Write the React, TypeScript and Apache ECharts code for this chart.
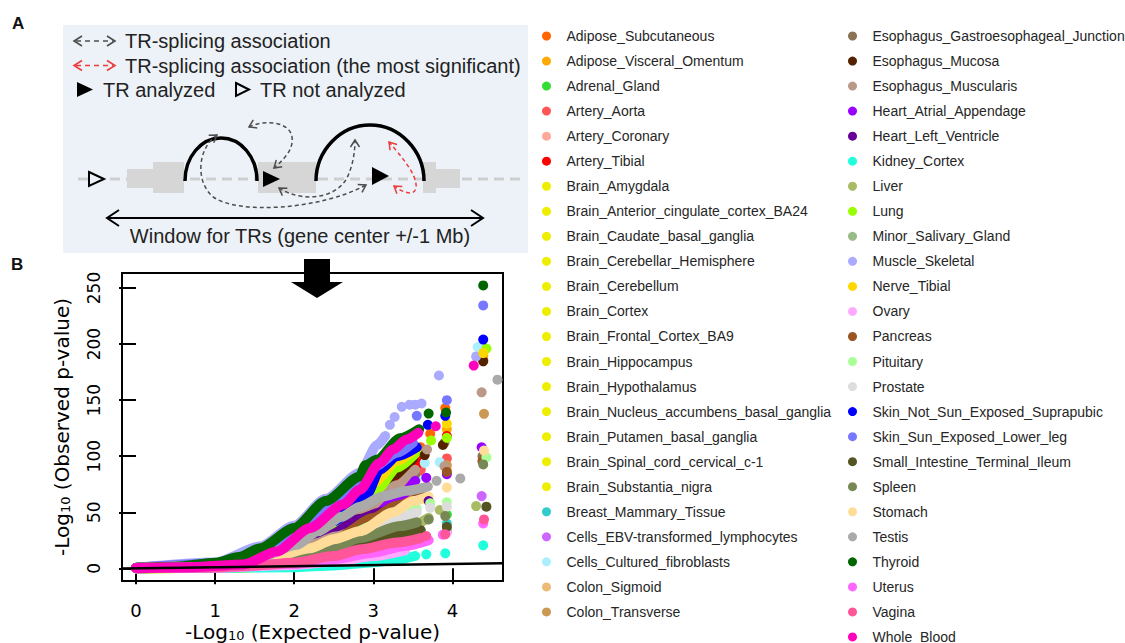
import React, { useEffect, useRef } from "react";
import * as echarts from "echarts";

type P = [number, number];

// ---------------- legend / tissue lists ----------------
const TISSUES_COL1 = [
  "Adipose_Subcutaneous", "Adipose_Visceral_Omentum", "Adrenal_Gland", "Artery_Aorta",
  "Artery_Coronary", "Artery_Tibial", "Brain_Amygdala", "Brain_Anterior_cingulate_cortex_BA24",
  "Brain_Caudate_basal_ganglia", "Brain_Cerebellar_Hemisphere", "Brain_Cerebellum", "Brain_Cortex",
  "Brain_Frontal_Cortex_BA9", "Brain_Hippocampus", "Brain_Hypothalamus",
  "Brain_Nucleus_accumbens_basal_ganglia", "Brain_Putamen_basal_ganglia",
  "Brain_Spinal_cord_cervical_c-1", "Brain_Substantia_nigra", "Breast_Mammary_Tissue",
  "Cells_EBV-transformed_lymphocytes", "Cells_Cultured_fibroblasts", "Colon_Sigmoid", "Colon_Transverse",
];
const TISSUES_COL2 = [
  "Esophagus_Gastroesophageal_Junction", "Esophagus_Mucosa", "Esophagus_Muscularis",
  "Heart_Atrial_Appendage", "Heart_Left_Ventricle", "Kidney_Cortex", "Liver", "Lung",
  "Minor_Salivary_Gland", "Muscle_Skeletal", "Nerve_Tibial", "Ovary", "Pancreas", "Pituitary",
  "Prostate", "Skin_Not_Sun_Exposed_Suprapubic", "Skin_Sun_Exposed_Lower_leg",
  "Small_Intestine_Terminal_Ileum", "Spleen", "Stomach", "Testis", "Thyroid", "Uterus", "Vagina",
  "Whole_Blood",
];
const TISSUES = [...TISSUES_COL1, ...TISSUES_COL2];

const COLORS = [
  "#FF6600", "#FFAA00", "#33DD33", "#FF5555", "#FFAA99", "#FF0000",
  "#EEEE00", "#EEEE00", "#EEEE00", "#EEEE00", "#EEEE00", "#EEEE00", "#EEEE00",
  "#EEEE00", "#EEEE00", "#EEEE00", "#EEEE00", "#EEEE00", "#EEEE00",
  "#33CCCC", "#CC66FF", "#AAEEFF", "#EEBB77", "#CC9955",
  "#8B7355", "#552200", "#BB9988", "#9900FF", "#660099", "#22FFDD", "#AABB66", "#99FF00",
  "#99BB88", "#AAAAFF", "#FFD700", "#FFAAFF", "#995522", "#AAFF99", "#DDDDDD", "#0000FF",
  "#7777FF", "#555522", "#778855", "#FFDD99", "#AAAAAA", "#006600", "#FF66FF", "#FF5599",
  "#FF00BB",
];

// ---------------- axis ticks ----------------
const X_TICKS = [0, 1, 2, 3, 4];
const Y_TICKS = [0, 50, 100, 150, 200, 250];
const X_MIN = -0.177;
const X_MAX = 4.64;
const Y_MIN = -11.3;
const Y_MAX = 263.4;

// ---------------- QQ values (expected, observed) per tissue ----------------
// band = dense run of points; tail = separate points at the top end
const bandAdiposeSub: P[] = [[0, 0.4], [1, 3.5], [1.5, 11], [2, 26], [2.5, 48], [2.8, 66], [3, 78], [3.3, 94], [3.6, 108]];
const tailAdiposeSub: P[] = [[3.72, 120], [3.91, 143], [4.39, 186]];
const bandAdiposeVis: P[] = [[0, 0.3], [1, 3], [1.5, 9], [2, 21], [2.5, 40], [2.8, 56], [3, 68], [3.3, 86], [3.6, 100]];
const tailAdiposeVis: P[] = [[3.93, 124], [4.39, 190]];
const bandAdrenal: P[] = [[0, 0.2], [1, 1.5], [1.5, 4], [2, 9], [2.5, 17], [3, 30], [3.4, 40]];
const tailAdrenal: P[] = [[3.93, 48]];
const bandAorta: P[] = [[0, 0.3], [1, 2.5], [1.5, 7], [2, 17], [2.5, 35], [3, 58], [3.3, 74], [3.6, 88]];
const tailAorta: P[] = [[3.93, 98]];
const bandCoronary: P[] = [[0, 0.2], [1, 1], [1.5, 3], [2, 7], [2.5, 13], [3, 22], [3.4, 30]];
const tailCoronary: P[] = [];
const bandTibialA: P[] = [[0, 0.3], [1, 3], [1.5, 8], [2, 20], [2.5, 40], [3, 66], [3.3, 82], [3.6, 96]];
const tailTibialA: P[] = [[3.93, 118]];
const bandAmygdala: P[] = [[0, 0.1], [1, 0.5], [2, 2], [2.5, 4], [3, 7], [3.3, 9]];
const bandAnterior: P[] = [[0, 0.1], [1, 0.6], [2, 2.5], [2.5, 5], [3, 9], [3.3, 12]];
const bandCaudate: P[] = [[0, 0.1], [1, 0.8], [2, 3.5], [2.5, 7], [3, 12], [3.4, 16]];
const bandCerebHemi: P[] = [[0, 0.1], [1, 0.9], [2, 4], [2.5, 8], [3, 14], [3.4, 19]];
const bandCerebellum: P[] = [[0, 0.1], [1, 1], [2, 5], [2.5, 10], [3, 17], [3.5, 24]];
const bandCortex: P[] = [[0, 0.1], [1, 0.8], [2, 3.5], [2.5, 7], [3, 12], [3.4, 16]];
const bandFrontal: P[] = [[0, 0.1], [1, 0.6], [2, 3], [2.5, 6], [3, 10], [3.3, 13]];
const bandHippo: P[] = [[0, 0.1], [1, 0.5], [2, 2.5], [2.5, 5], [3, 8], [3.3, 11]];
const bandHypo: P[] = [[0, 0.1], [1, 0.5], [2, 2.5], [2.5, 5], [3, 8.5], [3.3, 11]];
const bandNucleus: P[] = [[0, 0.1], [1, 0.7], [2, 3], [2.5, 6], [3, 11], [3.4, 14]];
const bandPutamen: P[] = [[0, 0.1], [1, 0.6], [2, 2.8], [2.5, 5.5], [3, 10], [3.3, 13]];
const bandSpinal: P[] = [[0, 0.1], [1, 0.5], [2, 2], [2.5, 4.5], [3, 8], [3.3, 10]];
const bandSubstantia: P[] = [[0, 0.1], [1, 0.4], [2, 1.8], [2.5, 3.5], [3, 6], [3.2, 8]];
const bandBreast: P[] = [[0, 0.2], [1, 1.5], [1.5, 4], [2, 9], [2.5, 17], [3, 28], [3.4, 36]];
const tailBreast: P[] = [[3.93, 40]];
const bandEBV: P[] = [[0, 0.1], [1, 1], [2, 5], [2.5, 10], [3, 18], [3.4, 26]];
const tailEBV: P[] = [[3.93, 33], [4.37, 64.4]];
const bandFibro: P[] = [[0, 0.3], [1, 2], [1.5, 6], [2, 15], [2.5, 30], [3, 52], [3.3, 66], [3.55, 80]];
const tailFibro: P[] = [[3.65, 94], [3.84, 94.7], [4.32, 197.4]];
const bandSigmoid: P[] = [[0, 0.2], [1, 2], [1.5, 5], [2, 12], [2.5, 24], [3, 42], [3.3, 55], [3.6, 66]];
const tailSigmoid: P[] = [[3.93, 88]];
const bandTransverse: P[] = [[0, 0.3], [1, 2], [1.5, 6], [2, 14], [2.5, 28], [3, 46], [3.3, 58], [3.6, 68]];
const tailTransverse: P[] = [[3.93, 92], [4.4, 137.8]];
const bandEsoGJ: P[] = [[0, 0.3], [1, 2], [1.5, 6], [2, 15], [2.5, 30], [3, 52], [3.3, 68], [3.53, 84]];
const tailEsoGJ: P[] = [[3.9, 112], [4.38, 100]];
const bandEsoMuc: P[] = [[0, 0.3], [1, 2.5], [1.5, 8], [2, 19], [2.5, 38], [3, 64], [3.3, 84], [3.5, 98]];
const tailEsoMuc: P[] = [[3.65, 101], [3.88, 110], [4.39, 184.6]];
const bandEsoMus: P[] = [[0, 0.3], [1, 2.5], [1.5, 7], [2, 17], [2.5, 34], [3, 57], [3.3, 74], [3.53, 88]];
const tailEsoMus: P[] = [[3.68, 106], [3.9, 91], [4.37, 157]];
const bandAtrial: P[] = [[0, 0.2], [1, 1.5], [1.5, 4], [2, 10], [2.5, 24], [3, 46], [3.3, 62], [3.53, 78]];
const tailAtrial: P[] = [[3.67, 80.8], [3.93, 84], [4.37, 108]];
const bandLV: P[] = [[0, 0.2], [1, 2], [1.5, 7], [2, 22], [2.2, 30], [2.5, 37], [2.83, 44], [3.1, 50], [3.4, 56]];
const tailLV: P[] = [[3.7, 60]];
const bandKidney: P[] = [[0, 0.1], [1, 0.3], [2, 1], [2.5, 2.5], [3, 5.5], [3.3, 8], [3.53, 11]];
const tailKidney: P[] = [[3.67, 12.5], [3.91, 13.4], [4.39, 20.5]];
const bandLiver: P[] = [[0, 0.1], [1, 1], [1.5, 3], [2, 7], [2.5, 14], [3, 25], [3.4, 36], [3.7, 45]];
const tailLiver: P[] = [[3.84, 52], [4.3, 55.5]];
const bandLung: P[] = [[0, 0.3], [1, 3], [1.5, 9], [2, 22], [2.4, 38], [2.83, 56], [3.04, 70], [3.3, 90], [3.55, 104]];
const tailLung: P[] = [[3.73, 114], [3.93, 116.4], [4.43, 196]];
const bandSalivary: P[] = [[0, 0.1], [1, 0.8], [2, 4], [2.5, 9], [3, 17], [3.4, 25]];
const tailSalivary: P[] = [[3.93, 35]];
const bandMuscle: P[] = [[0, 0.5], [1, 5.2], [1.57, 19.5], [2, 38], [2.4, 62], [2.83, 85], [3.05, 110], [3.15, 118]];
const tailMuscle: P[] = [[3.21, 128], [3.27, 135], [3.36, 144], [3.46, 146], [3.53, 146], [3.61, 147], [3.83, 172], [4.3, 189]];
const bandNerve: P[] = [[0, 0.3], [1, 3], [1.5, 9], [2, 22], [2.5, 44], [2.8, 62], [3, 76], [3.3, 96], [3.55, 108]];
const tailNerve: P[] = [[3.93, 129], [4.39, 192]];
const bandOvary: P[] = [[0, 0.1], [1, 0.6], [2, 3], [2.5, 6], [3, 11], [3.4, 16]];
const tailOvary: P[] = [[3.93, 32]];
const bandPancreas: P[] = [[0, 0.2], [1, 1.5], [1.5, 5], [2, 12], [2.5, 25], [3, 45], [3.3, 56], [3.6, 64]];
const tailPancreas: P[] = [[3.93, 86], [4.38, 95.6]];
const bandPituitary: P[] = [[0, 0.1], [1, 1.5], [1.5, 4], [2, 10], [2.5, 22], [3, 38], [3.3, 48], [3.55, 53]];
const tailPituitary: P[] = [[3.72, 58], [3.93, 59], [4.43, 98.9]];
const bandProstate: P[] = [[0, 0.1], [1, 1.2], [1.5, 3.5], [2, 9], [2.5, 20], [3, 35], [3.3, 45], [3.55, 50]];
const tailProstate: P[] = [[3.72, 54], [3.93, 55]];
const bandSkinNot: P[] = [[0, 0.3], [1, 3], [1.5, 9], [2, 22], [2.5, 42], [2.8, 58], [2.92, 66], [3.08, 88], [3.3, 100], [3.55, 108]];
const tailSkinNot: P[] = [[3.69, 128], [3.91, 136], [4.39, 204]];
const bandSkinSun: P[] = [[0, 0.4], [1, 4], [1.5, 11], [2, 27], [2.5, 55], [2.8, 78], [3, 90], [3.3, 103], [3.5, 112]];
const tailSkinSun: P[] = [[3.55, 136], [3.93, 150], [4.39, 234.5]];
const bandSmallInt: P[] = [[0, 0.1], [1, 1], [1.5, 3], [2, 7], [2.5, 15], [3, 25], [3.3, 31], [3.6, 34]];
const tailSmallInt: P[] = [[3.93, 37], [4.43, 55]];
const bandSpleen: P[] = [[0, 0.1], [1, 1.2], [1.5, 4], [2, 9], [2.41, 15], [2.83, 27], [3.34, 37.7], [3.55, 41]];
const tailSpleen: P[] = [[3.7, 43.6], [3.91, 46.6], [4.39, 92.7]];
const bandStomach: P[] = [[0, 0.2], [1, 2], [1.57, 6.5], [2.2, 18], [2.5, 26], [2.83, 33], [3.25, 50], [3.5, 60], [3.7, 64]];
const tailStomach: P[] = [[3.93, 72], [4.4, 105]];
const bandTestis: P[] = [[0, 0.2], [1, 2.5], [1.5, 8], [2.03, 21], [2.3, 33], [2.6, 46], [2.83, 55], [3.12, 64], [3.4, 69], [3.69, 73]];
const tailTestis: P[] = [[3.8, 78], [4.1, 80.2], [4.57, 168.3]];
const bandThyroid: P[] = [[0, 0.5], [0.5, 1.5], [1, 5], [1.3, 10], [1.57, 18], [2, 36], [2.4, 60], [2.83, 82], [2.9, 92], [3.05, 97], [3.34, 116], [3.58, 124]];
const tailThyroid: P[] = [[3.7, 138], [3.92, 139], [4.39, 252.3]];
const bandUterus: P[] = [[0, 0.1], [1, 0.8], [2, 4], [2.5, 8], [3, 14], [3.4, 20], [3.7, 25]];
const tailUterus: P[] = [[3.88, 30], [4.39, 40]];
const bandVagina: P[] = [[0, 0.2], [1, 1], [1.5, 2.5], [2, 5], [2.5, 11], [2.85, 17], [3.3, 23], [3.6, 27]];
const tailVagina: P[] = [[3.67, 28.8], [3.91, 30.3], [4.4, 43.6]];
const bandBlood: P[] = [[0, 0.3], [0.7, 1], [1.36, 3.5], [1.78, 15], [2.2, 36], [2.62, 57], [2.83, 70], [3.08, 94], [3.25, 106], [3.42, 115], [3.57, 121]];
const tailBlood: P[] = [[3.79, 126.7], [4.27, 180.8]];

const BANDS: P[][] = [
  bandAdiposeSub, bandAdiposeVis, bandAdrenal, bandAorta, bandCoronary, bandTibialA,
  bandAmygdala, bandAnterior, bandCaudate, bandCerebHemi, bandCerebellum, bandCortex, bandFrontal,
  bandHippo, bandHypo, bandNucleus, bandPutamen, bandSpinal, bandSubstantia,
  bandBreast, bandEBV, bandFibro, bandSigmoid, bandTransverse,
  bandEsoGJ, bandEsoMuc, bandEsoMus, bandAtrial, bandLV, bandKidney, bandLiver, bandLung,
  bandSalivary, bandMuscle, bandNerve, bandOvary, bandPancreas, bandPituitary, bandProstate, bandSkinNot,
  bandSkinSun, bandSmallInt, bandSpleen, bandStomach, bandTestis, bandThyroid, bandUterus, bandVagina,
  bandBlood,
];
const TAILS: P[][] = [
  tailAdiposeSub, tailAdiposeVis, tailAdrenal, tailAorta, tailCoronary, tailTibialA,
  [], [], [], [], [], [], [], [], [], [], [], [], [],
  tailBreast, tailEBV, tailFibro, tailSigmoid, tailTransverse,
  tailEsoGJ, tailEsoMuc, tailEsoMus, tailAtrial, tailLV, tailKidney, tailLiver, tailLung,
  tailSalivary, tailMuscle, tailNerve, tailOvary, tailPancreas, tailPituitary, tailProstate, tailSkinNot,
  tailSkinSun, tailSmallInt, tailSpleen, tailStomach, tailTestis, tailThyroid, tailUterus, tailVagina,
  tailBlood,
];

// ---------------- panel A drawing helpers ----------------
const FONT_A = '"Liberation Sans", Arial, sans-serif';
const PLOT_FONT = '"DejaVu Sans", Verdana, sans-serif';
const BG = "#EDF2F8";
const DASH_GRAY = "#4D4D4D";
const RED = "#EE3B3B";

const PATHS: Record<string, string> = {
  arcOne: "M185 181 C185 157 201 138 221 138 C241 138 257 157 257 181",
  arcTwo: "M316 181 C316 151 340 125 370 125 C400 125 424 151 424 181",
  dashA: "M249 127 C265 119 290 122 292 137 C294 150 283 160 274 168",
  dashB: "M217 135 C198 148 195 180 212 196 C235 215 320 210 366 185",
  dashC: "M279 188 C300 202 335 200 347 178 C353 165 355 152 355 140",
  dashD: "M389 142 C400 155 418 175 416 188 C414 197 402 192 394 186",
};

function chevron(tip: P, from: P, len = 7, half = 4.5): P[] {
  const dx = tip[0] - from[0];
  const dy = tip[1] - from[1];
  const d = Math.hypot(dx, dy);
  const ux = dx / d;
  const uy = dy / d;
  const bx = tip[0] - ux * len;
  const by = tip[1] - uy * len;
  return [[bx - uy * half, by + ux * half], tip, [bx + uy * half, by - ux * half]];
}

function chev(tip: P, from: P, color: string, lw = 1.5, len = 7, half = 4.5): any {
  return {
    type: "polyline",
    z: 6,
    silent: true,
    shape: { points: chevron(tip, from, len, half) },
    style: { stroke: color, lineWidth: lw, fill: null },
  };
}

function legendArrow(x0: number, x1: number, y: number, color: string): any[] {
  return [
    chev([x0, y], [x0 + 10, y], color, 1.6, 8, 5),
    chev([x1, y], [x1 - 10, y], color, 1.6, 8, 5),
    {
      type: "line", z: 6, silent: true,
      shape: { x1: x0 + 2, y1: y, x2: x1 - 2, y2: y },
      style: { stroke: color, lineWidth: 1.6, lineDash: [5, 4] },
    },
  ];
}

function txt(x: number, y: number, text: string, size: number, extra: any = {}): any {
  return {
    type: "text", x, y, z: 6, silent: true,
    style: {
      text, fill: "#222", font: `${size}px ${FONT_A}`,
      align: "left", verticalAlign: "middle", ...extra,
    },
  };
}

function buildGraphic(): any[] {
  const els: any[] = [];
  els.push({ type: "rect", z: 4, silent: true, shape: { x: 63, y: 25, width: 465, height: 228 }, style: { fill: BG } });
  els.push({ type: "text", x: 12, y: 23, z: 6, silent: true, style: { text: "A", font: `bold 17px ${FONT_A}`, fill: "#111", verticalAlign: "middle" } });
  els.push({ type: "text", x: 11, y: 264, z: 6, silent: true, style: { text: "B", font: `bold 17px ${FONT_A}`, fill: "#111", verticalAlign: "middle" } });

  // key
  els.push(...legendArrow(74, 115, 41, DASH_GRAY));
  els.push(txt(125, 41, "TR-splicing association", 20));
  els.push(...legendArrow(74, 115, 65.5, RED));
  els.push(txt(125, 65.5, "TR-splicing association (the most significant)", 20));
  els.push({ type: "polygon", z: 6, silent: true, shape: { points: [[77, 82], [93, 89.5], [77, 97]] }, style: { fill: "#000" } });
  els.push(txt(103, 89.5, "TR analyzed", 20));
  els.push({ type: "polygon", z: 6, silent: true, shape: { points: [[236, 83], [249, 89.5], [236, 96]] }, style: { fill: null, stroke: "#000", lineWidth: 2 } });
  els.push(txt(260, 89.5, "TR not analyzed", 20));

  // gene diagram
  els.push({ type: "line", z: 5, silent: true, shape: { x1: 78, y1: 179, x2: 520, y2: 179 }, style: { stroke: "#CFCFCF", lineWidth: 3, lineDash: [10, 6] } });
  const exons: [number, number, number, number][] = [
    [127, 169, 26, 19], [153, 162, 31, 31], [258, 162, 58, 31], [423, 162, 13, 31], [436, 169, 24, 19],
  ];
  exons.forEach(([x, y, w, h]) => els.push({ type: "rect", z: 5, silent: true, shape: { x, y, width: w, height: h }, style: { fill: "#D6D6D6" } }));
  els.push({ type: "polygon", z: 6, silent: true, shape: { points: [[89, 172], [104, 179], [89, 186]] }, style: { fill: BG, stroke: "#000", lineWidth: 2 } });
  els.push({ type: "arcOne", z: 6, silent: true, style: { stroke: "#000", lineWidth: 3.5, fill: null } });
  els.push({ type: "arcTwo", z: 6, silent: true, style: { stroke: "#000", lineWidth: 3.5, fill: null } });
  els.push({ type: "polygon", z: 7, silent: true, shape: { points: [[263, 171], [280, 179], [263, 187]] }, style: { fill: "#000" } });
  els.push({ type: "polygon", z: 7, silent: true, shape: { points: [[372, 167], [389, 176], [372, 185]] }, style: { fill: "#000" } });

  const dashStyle = (c: string) => ({ stroke: c, lineWidth: 1.5, lineDash: [4, 3], fill: null });
  els.push({ type: "dashA", z: 6, silent: true, style: dashStyle(DASH_GRAY) });
  els.push(chev([249, 127], [265, 119], DASH_GRAY));
  els.push(chev([274, 168], [283, 160], DASH_GRAY));
  els.push({ type: "dashB", z: 6, silent: true, style: dashStyle(DASH_GRAY) });
  els.push(chev([217, 135], [198, 148], DASH_GRAY));
  els.push(chev([366, 185], [320, 210], DASH_GRAY));
  els.push({ type: "dashC", z: 6, silent: true, style: dashStyle(DASH_GRAY) });
  els.push(chev([279, 188], [300, 202], DASH_GRAY));
  els.push(chev([355, 140], [355, 152], DASH_GRAY));
  els.push({ type: "dashD", z: 6, silent: true, style: dashStyle(RED) });
  els.push(chev([389, 142], [400, 155], RED));
  els.push(chev([394, 186], [402, 192], RED));

  // window arrow
  els.push({ type: "line", z: 6, silent: true, shape: { x1: 108, y1: 218, x2: 482, y2: 218 }, style: { stroke: "#000", lineWidth: 2 } });
  els.push(chev([107, 218], [120, 218], "#000", 2, 12, 8));
  els.push(chev([483, 218], [470, 218], "#000", 2, 12, 8));
  els.push(txt(300, 236, "Window for TRs (gene center +/-1 Mb)", 20, { align: "center" }));

  // big arrow to panel B
  els.push({
    type: "polygon", z: 20, silent: true,
    shape: { points: [[304, 259], [330, 259], [330, 282], [343, 282], [317, 298], [291, 282], [304, 282]] },
    style: { fill: "#000" },
  });
  return els;
}

let shapesRegistered = false;
function registerShapes() {
  if (shapesRegistered) return;
  Object.keys(PATHS).forEach((k) => {
    echarts.graphic.registerShape(k, echarts.graphic.extendPath(PATHS[k], {}) as any);
  });
  shapesRegistered = true;
}

function axisName(word: string) {
  return `{n|-Log}{s|10}{n| (${word} p-value)}`;
}
const nameRich = {
  n: { fontFamily: PLOT_FONT, fontSize: 20, lineHeight: 20, color: "#000" },
  s: { fontFamily: PLOT_FONT, fontSize: 13, lineHeight: 11, verticalAlign: "bottom", color: "#000" },
};

export default function App() {
  const ref = useRef<HTMLDivElement>(null);
  useEffect(() => {
    if (!ref.current) return;
    registerShapes();
    const chart = echarts.init(ref.current, null, { renderer: "svg", width: 1125, height: 643 });

    const series: any[] = [];
    TISSUES.forEach((name, i) => {
      const color = COLORS[i];
      series.push({
        type: "line", name, data: BANDS[i], color,
        showSymbol: false, symbol: "none", smooth: 0.25, smoothMonotone: "x",
        lineStyle: { width: 10, color, cap: "round", join: "round" },
        itemStyle: { color }, silent: true, clip: true, z: 2,
      });
      if (TAILS[i].length) {
        series.push({
          type: "scatter", name, data: TAILS[i], color,
          symbol: "circle", symbolSize: 10, itemStyle: { color, opacity: 1 },
          silent: true, clip: true, z: 2,
        });
      }
    });
    series.push({
      type: "line", name: "expected", data: [[X_MIN, X_MIN], [X_MAX, X_MAX]],
      symbol: "none", showSymbol: false, lineStyle: { color: "#000", width: 2.5 },
      silent: true, z: 5,
    });

    const legendCommon = {
      orient: "vertical", padding: 0, itemWidth: 30, itemHeight: 9, itemGap: 9.04,
      icon: "circle", selectedMode: false, height: 700, top: 28,
      textStyle: { fontFamily: FONT_A, fontSize: 14, color: "#262626", lineHeight: 16 },
    };

    chart.setOption({
      animation: false,
      backgroundColor: "#fff",
      grid: {
        left: 122, top: 273, width: 381, height: 309,
        show: true, borderColor: "#000", borderWidth: 2, backgroundColor: "transparent",
      },
      xAxis: {
        type: "value", min: X_MIN, max: X_MAX,
        axisLine: { show: false }, splitLine: { show: false },
        axisTick: { show: true, length: 16, customValues: X_TICKS, lineStyle: { color: "#000", width: 2 } },
        axisLabel: { customValues: X_TICKS, margin: 20, fontFamily: PLOT_FONT, fontSize: 18, color: "#000" },
        name: axisName("Expected"), nameLocation: "middle", nameGap: 41,
        nameTextStyle: { rich: nameRich },
      },
      yAxis: {
        type: "value", min: Y_MIN, max: Y_MAX,
        axisLine: { show: false }, splitLine: { show: false },
        axisTick: { show: true, length: 17, customValues: Y_TICKS, lineStyle: { color: "#000", width: 2 } },
        axisLabel: { customValues: Y_TICKS, rotate: 90, margin: 20, fontFamily: PLOT_FONT, fontSize: 17, color: "#000" },
        name: axisName("Observed"), nameLocation: "middle", nameGap: 50,
        nameTextStyle: { rich: nameRich },
      },
      legend: [
        { ...legendCommon, left: 542, data: TISSUES_COL1 },
        { ...legendCommon, left: 848, data: TISSUES_COL2 },
      ],
      graphic: buildGraphic(),
      series,
    });
    return () => chart.dispose();
  }, []);

  return (
    <div
      ref={ref}
      style={{ position: "fixed", left: 0, top: 0, width: 1125, height: 643, background: "#fff" }}
    />
  );
}
